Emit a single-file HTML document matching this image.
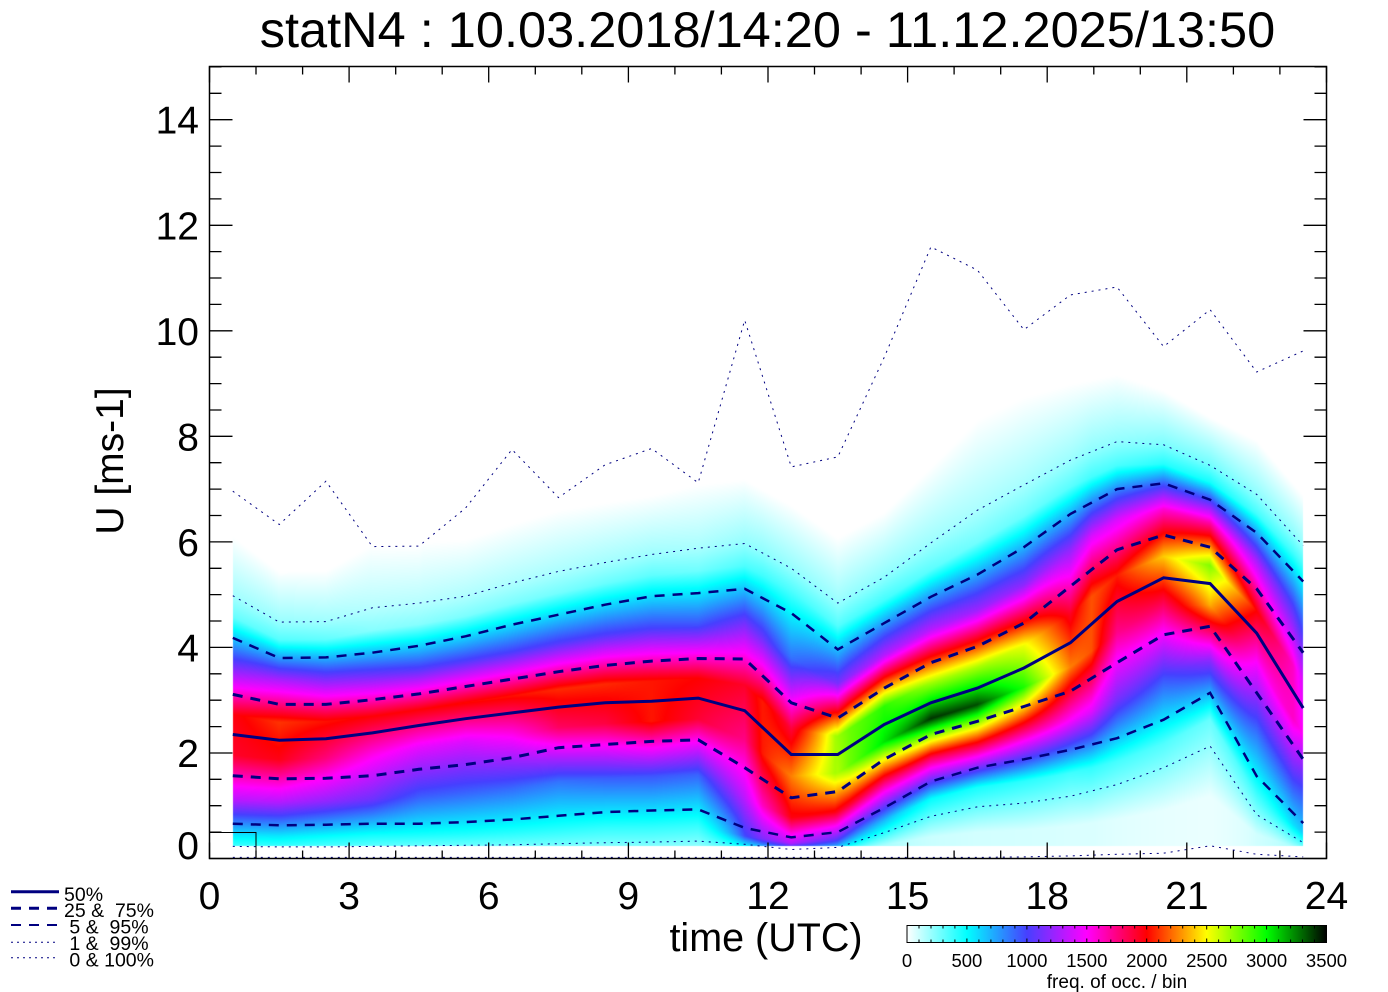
<!DOCTYPE html>
<html><head><meta charset="utf-8">
<style>
html,body{margin:0;padding:0;background:#fff;}
#wrap{position:relative;width:1388px;height:992px;overflow:hidden;background:#fff;}
canvas,svg{position:absolute;left:0;top:0;}
text{font-family:"Liberation Sans",Arial,sans-serif;fill:#000;}
</style></head><body>
<div id="wrap">
<canvas id="c" width="1388" height="992"></canvas>
<svg id="s" width="1388" height="992" xmlns="http://www.w3.org/2000/svg">
<defs><linearGradient id="cb" x1="0" x2="1" y1="0" y2="0">
<stop offset="0" stop-color="#ffffff"/>
<stop offset="0.142857" stop-color="#00ffff"/>
<stop offset="0.285714" stop-color="#4640ff"/>
<stop offset="0.428571" stop-color="#ff00ff"/>
<stop offset="0.571429" stop-color="#ff0000"/>
<stop offset="0.714286" stop-color="#ffff00"/>
<stop offset="0.857143" stop-color="#00ff00"/>
<stop offset="1" stop-color="#000000"/>
</linearGradient></defs>

<g fill="none" stroke="#000080">
 <polyline id="l0" stroke-width="1" stroke-dasharray="2 5"/>
 <polyline id="l1" stroke-width="1" stroke-dasharray="2 5"/>
 <polyline id="l2" stroke-width="2.5" stroke-dasharray="10 8"/>
 <polyline id="l3" stroke-width="3" stroke-dasharray="10 8"/>
 <polyline id="l4" stroke-width="3"/>
 <polyline id="l5" stroke-width="3" stroke-dasharray="10 8"/>
 <polyline id="l6" stroke-width="2.5" stroke-dasharray="10 8"/>
 <polyline id="l7" stroke-width="1" stroke-dasharray="2 5"/>
 <polyline id="l8" stroke-width="1" stroke-dasharray="2 5"/>
</g>

<rect x="209.5" y="832.5" width="46.5" height="26" fill="none" stroke="#000" stroke-width="1"/>
<rect x="209.5" y="66.5" width="1117" height="792" fill="none" stroke="#000" stroke-width="1.5"/>
<path id="ticks" fill="none" stroke="#000" stroke-width="1.3" d=""/>

<text x="767.5" y="47" font-size="50.5" text-anchor="middle">statN4 : 10.03.2018/14:20 - 11.12.2025/13:50</text>

<g font-size="39" text-anchor="end">
<text x="199" y="133.7">14</text>
<text x="199" y="239.3">12</text>
<text x="199" y="344.8">10</text>
<text x="199" y="450.3">8</text>
<text x="199" y="555.9">6</text>
<text x="199" y="661.4">4</text>
<text x="199" y="767">2</text>
<text x="199" y="859">0</text>
</g>
<g font-size="39" text-anchor="middle">
<text x="209.5" y="909">0</text>
<text x="349.1" y="909">3</text>
<text x="488.7" y="909">6</text>
<text x="628.4" y="909">9</text>
<text x="768" y="909">12</text>
<text x="907.6" y="909">15</text>
<text x="1047.2" y="909">18</text>
<text x="1186.9" y="909">21</text>
<text x="1326.5" y="909">24</text>
</g>
<text x="766" y="951" font-size="39.5" text-anchor="middle">time (UTC)</text>
<text transform="translate(123,461) rotate(-90)" font-size="39" text-anchor="middle">U [ms-1]</text>

<g stroke="#000080" fill="none">
<line x1="11" y1="891.7" x2="59" y2="891.7" stroke-width="3"/>
<line x1="11" y1="908.3" x2="59" y2="908.3" stroke-width="3" stroke-dasharray="10 8"/>
<line x1="11" y1="925" x2="59" y2="925" stroke-width="2" stroke-dasharray="10 8"/>
<line x1="11" y1="942.3" x2="59" y2="942.3" stroke-width="1" stroke-dasharray="2 4"/>
<line x1="11" y1="957.7" x2="59" y2="957.7" stroke-width="1" stroke-dasharray="2 4"/>
</g>
<g font-size="19.5" style="white-space:pre">
<text x="64" y="901" xml:space="preserve">50%</text>
<text x="64" y="917" xml:space="preserve">25 &amp;  75%</text>
<text x="64" y="933.5" xml:space="preserve"> 5 &amp;  95%</text>
<text x="64" y="950" xml:space="preserve"> 1 &amp;  99%</text>
<text x="64" y="966.5" xml:space="preserve"> 0 &amp; 100%</text>
</g>

<rect x="907" y="925.5" width="419.5" height="17" fill="url(#cb)" stroke="#000" stroke-width="1"/>
<path id="cbt" fill="none" stroke="#000" stroke-width="1" d=""/>
<g font-size="18.5" text-anchor="middle">
<text x="907" y="967">0</text>
<text x="966.9" y="967">500</text>
<text x="1026.9" y="967">1000</text>
<text x="1086.8" y="967">1500</text>
<text x="1146.7" y="967">2000</text>
<text x="1206.7" y="967">2500</text>
<text x="1266.6" y="967">3000</text>
<text x="1326.5" y="967">3500</text>
</g>
<text x="1117" y="988" font-size="19" text-anchor="middle">freq. of occ. / bin</text>
</svg>
</div>
<script>
(function(){
var P=[
[0.02,0.02,0.02,0.02,0.02,0.02,0.02,0.02,0.02,0.02,0.02,0.02,0.02,0.02,0.02,0.02,0.02,0.03,0.05,0.08,0.1,0.24,0.08,0.03],
[0.23,0.22,0.22,0.23,0.24,0.25,0.26,0.28,0.30,0.31,0.33,0.27,0.17,0.21,0.49,0.80,0.98,1.05,1.18,1.40,1.72,2.13,0.83,0.30],
[0.66,0.63,0.64,0.66,0.66,0.69,0.74,0.81,0.88,0.91,0.93,0.58,0.40,0.50,0.96,1.46,1.72,1.88,2.06,2.28,2.63,3.14,1.56,0.67],
[1.57,1.51,1.52,1.57,1.69,1.78,1.91,2.10,2.16,2.22,2.25,1.72,1.15,1.27,1.88,2.35,2.60,2.88,3.17,3.71,4.24,4.40,3.14,1.88],
[2.35,2.24,2.27,2.38,2.52,2.65,2.76,2.87,2.95,2.98,3.04,2.80,1.97,1.97,2.54,2.95,3.23,3.61,4.09,4.87,5.32,5.21,4.27,2.85],
[3.11,2.92,2.92,3.01,3.12,3.26,3.40,3.54,3.66,3.74,3.79,3.78,2.95,2.66,3.23,3.71,4.02,4.46,5.16,5.85,6.13,5.90,5.11,3.90],
[4.18,3.80,3.81,3.90,4.03,4.21,4.43,4.62,4.81,4.97,5.03,5.11,4.65,3.96,4.46,4.96,5.38,5.90,6.53,7.00,7.11,6.80,6.17,5.25],
[4.98,4.48,4.49,4.75,4.84,4.97,5.22,5.44,5.61,5.76,5.88,5.97,5.50,4.84,5.33,5.98,6.60,7.08,7.55,7.90,7.84,7.45,6.90,5.93],
[6.96,6.33,7.15,5.91,5.92,6.64,7.75,6.84,7.46,7.77,7.12,10.2,7.42,7.61,9.5,11.59,11.15,10.02,10.68,10.83,9.70,10.40,9.22,9.62]
];
var PC=[0,0.01,0.05,0.25,0.5,0.75,0.95,0.99,1.0];
var peak=[1970,2100,2030,1990,1990,2010,2030,2080,2080,2040,2000,1920,2250,2700,3050,3400,3350,2950,2250,2050,2400,2750,2000,1500];
function X(h){return 209.5+h*46.54;}
function Y(u){return 858.5-u*52.77;}
var stops=[[0,255,255,255],[500,0,255,255],[1000,70,64,255],[1500,255,0,255],[2000,255,0,0],[2500,255,255,0],[3000,0,255,0],[3500,0,0,0]];
function cmap(v){
  if(v<=0)return [255,255,255];
  if(v>=3500)return [0,0,0];
  for(var k=0;k<stops.length-1;k++){
    var a=stops[k],b=stops[k+1];
    if(v>=a[0]&&v<=b[0]){var f=(v-a[0])/(b[0]-a[0]);
      return [a[1]+(b[1]-a[1])*f,a[2]+(b[2]-a[2])*f,a[3]+(b[3]-a[3])*f];}
  }
  return [0,0,0];
}
var cv=document.getElementById('c'),ctx=cv.getContext('2d');
ctx.fillStyle='#fff';ctx.fillRect(0,0,1388,992);
var x0=233,x1=1303,y0=67,y1=846,W=x1-x0,H=y1-y0;
var img=ctx.createImageData(W,H),d=img.data;
for(var px=0;px<W;px++){
  var h=(x0+px+0.5-209.5)/46.54,t=h-0.5,i=Math.floor(t);
  if(i<0)i=0;if(i>22)i=22;var f=t-i;if(f<0)f=0;if(f>1)f=1;
  var q=[];for(var k=0;k<9;k++)q.push(P[k][i]*(1-f)+P[k][i+1]*f);
  var pk=peak[i]*(1-f)+peak[i+1]*f;
  var ku=[],kd=[];
  for(k=0;k<7;k++){var du=Math.max(q[k+1]-q[k],0.05);ku.push((q[k]+q[k+1])/2);kd.push((PC[k+1]-PC[k])/du);}
  // upper tail
  ku.push(q[7]);kd.push(kd[6]*0.6);
  var top=Math.min(q[8],q[7]+1.4*(q[7]-q[6]));
  if(top<q[7]+0.2)top=q[7]+0.2;
  ku.push(top);kd.push(0);
  var n=ku.length;
  var mx=0;for(k=0;k<n;k++)if(kd[k]>mx)mx=kd[k];
  var kk=0;
  for(var py=H-1;py>=0;py--){
    var u=(858.5-(y0+py+0.5))/52.77,dens;
    if(u<=ku[0])dens=kd[0];
    else if(u>=ku[n-1])dens=0;
    else{
      while(kk<n-2&&u>ku[kk+1])kk++;
      var g=(u-ku[kk])/(ku[kk+1]-ku[kk]);
      dens=kd[kk]+(kd[kk+1]-kd[kk])*g;
    }
    var c=cmap(pk*dens/mx);
    var o=(py*W+px)*4;
    d[o]=c[0];d[o+1]=c[1];d[o+2]=c[2];d[o+3]=255;
  }
}
ctx.putImageData(img,x0,y0);
for(var k=0;k<9;k++){
  var pts=[];
  for(var i=0;i<24;i++)pts.push(X(i+0.5).toFixed(1)+','+Y(P[k][i]).toFixed(1));
  document.getElementById('l'+k).setAttribute('points',pts.join(' '));
}
var s='';
for(var k=0;k<=30;k++){var y=Y(k*0.5).toFixed(1),L=(k%4==0)?23:12;s+='M209.5 '+y+'h'+L+'M1326.5 '+y+'h'+(-L);}
for(var hh=0;hh<=24;hh++){var x=X(hh).toFixed(1),L=(hh%3==0)?16:8;s+='M'+x+' 858.5v'+(-L)+'M'+x+' 66.5v'+L;}
document.getElementById('ticks').setAttribute('d',s);
var s2='';
for(var v=100;v<3500;v+=100){var x=(907+v*0.11986).toFixed(1),L=(v%500==0)?4:3;s2+='M'+x+' 925.5v'+L+'M'+x+' 942.5v'+(-L);}
document.getElementById('cbt').setAttribute('d',s2);
})();
</script>
</body></html>
